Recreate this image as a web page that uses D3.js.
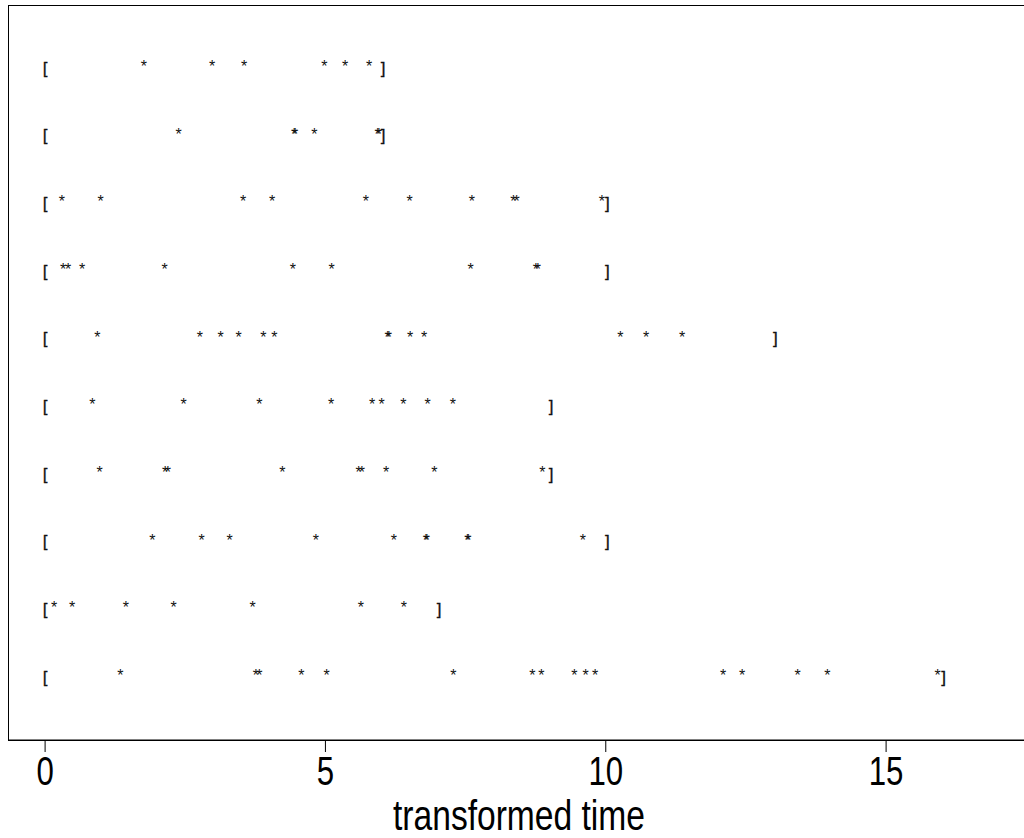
<!DOCTYPE html>
<html><head><meta charset="utf-8">
<script src="https://cdn.jsdelivr.net/npm/d3@7"></script>
<style>body{margin:0;background:#fff}svg{display:block}</style>
</head><body>
<svg id="c" width="1024" height="838"></svg>
<script>
const rowIds = [1,2,3,4,5,6,7,8,9,10];
const endTimes = [6, 6, 10, 10, 13, 9, 9, 10, 7, 16];
const eventTimes = [
  [1.77, 2.99, 3.56, 4.99, 5.36, 5.79],
  [2.39, 4.45, 4.47, 4.81, 5.94, 5.96],
  [0.31, 1.0, 3.54, 4.06, 5.73, 6.51, 7.62, 8.36, 8.42, 9.94],
  [0.33, 0.42, 0.67, 2.14, 4.43, 5.12, 7.6, 8.76, 8.8],
  [0.94, 2.77, 3.14, 3.46, 3.9, 4.1, 6.12, 6.14, 6.52, 6.77, 10.27, 10.73, 11.37],
  [0.85, 2.48, 3.83, 5.11, 5.84, 6.01, 6.4, 6.83, 7.28],
  [0.98, 2.15, 2.2, 4.24, 5.6, 5.66, 6.09, 6.95, 8.88],
  [1.92, 2.8, 3.3, 4.84, 6.23, 6.8, 6.82, 7.54, 7.56, 9.6],
  [0.17, 0.49, 1.45, 2.3, 3.71, 5.64, 6.41],
  [1.35, 3.77, 3.83, 4.58, 5.03, 7.29, 8.7, 8.86, 9.45, 9.65, 9.82, 12.1, 12.44, 13.43, 13.96, 15.93]
];
const xTicks = [0, 5, 10, 15];
const xTitle = "transformed time";

const svg = d3.select("#c");
const x = d3.scaleLinear().domain([0, 15]).range([44.6, 885.6]);
const y = d3.scalePoint().domain(rowIds).range([72, 681]);

svg.append("rect").attr("x", 8.5).attr("y", 5.5).attr("width", 1030).attr("height", 734.5)
  .attr("fill", "none").attr("stroke", "#000").attr("stroke-width", 1);

const font = "'Liberation Sans', Arial, sans-serif";

const rows = svg.append("g").selectAll("g").data(rowIds).join("g")
  .attr("transform", d => `translate(0,${y(d)})`);

rows.append("text").attr("x", x(0)).attr("dx", 0.5).attr("dy", 1.5).attr("text-anchor", "middle")
  .attr("font-family", font).attr("font-size", 17).attr("fill", "#111")
  .attr("stroke", "#111").attr("stroke-width", 0.3).text("[");
rows.append("text").attr("x", (d, i) => x(endTimes[i])).attr("dx", 2).attr("dy", 1.5).attr("text-anchor", "middle")
  .attr("font-family", font).attr("font-size", 17).attr("fill", "#111")
  .attr("stroke", "#111").attr("stroke-width", 0.3).text("]");
rows.selectAll("text.ev").data((d, i) => eventTimes[i]).join("text").attr("class", "ev")
  .attr("x", d => x(d)).attr("text-anchor", "middle")
  .attr("font-family", font).attr("font-size", 16).attr("fill", "#111").text("*");

const axis = d3.axisBottom(x).tickValues(xTicks).tickSize(12).tickPadding(5).tickFormat(d3.format("d"));
const ga = svg.append("g").attr("transform", "translate(0,740)").call(axis);
ga.select(".domain").remove();
ga.append("line").attr("x1", 8).attr("x2", 1024).attr("y1", 0.5).attr("y2", 0.5).attr("stroke", "#000");
ga.selectAll(".tick line").attr("stroke", "#000");
ga.selectAll(".tick text").attr("font-family", font).attr("font-size", 40).attr("fill", "#000")
  .attr("dy", "0.71em").attr("transform", "scale(0.78,1)");

svg.append("text").attr("transform", "translate(519,830) scale(0.8,1)").attr("text-anchor", "middle")
  .attr("font-family", font).attr("font-size", 42).attr("fill", "#000").text(xTitle);
</script>
</body></html>
